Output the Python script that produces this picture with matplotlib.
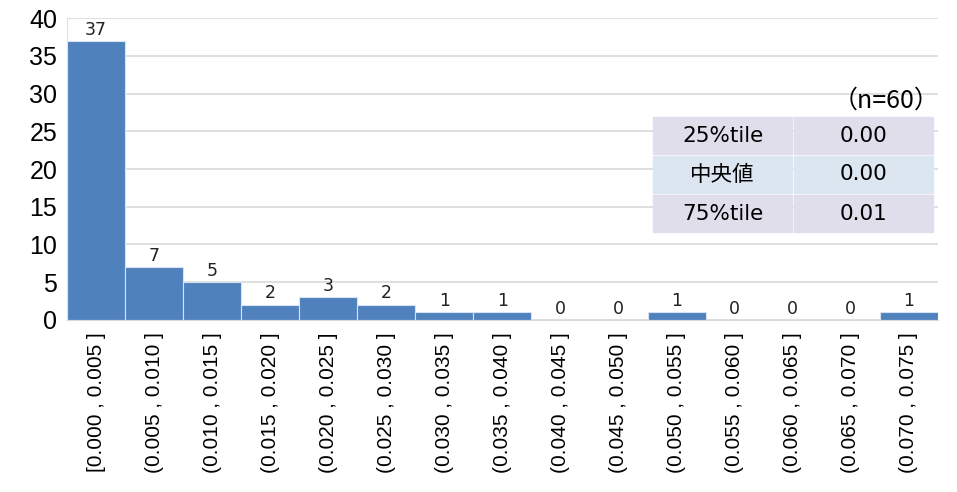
import matplotlib
matplotlib.use("Agg")
import matplotlib.pyplot as plt
import numpy as np

plt.rcParams['font.family'] = ['Liberation Sans', 'Noto Sans CJK JP', 'DejaVu Sans']

# bins and counts
bin_labels = ['[0.000 , 0.005 ]', '(0.005 , 0.010 ]', '(0.010 , 0.015 ]', '(0.015 , 0.020 ]',
              '(0.020 , 0.025 ]', '(0.025 , 0.030 ]', '(0.030 , 0.035 ]', '(0.035 , 0.040 ]',
              '(0.040 , 0.045 ]', '(0.045 , 0.050 ]', '(0.050 , 0.055 ]', '(0.055 , 0.060 ]',
              '(0.060 , 0.065 ]', '(0.065 , 0.070 ]', '(0.070 , 0.075 ]']
counts = [37, 7, 5, 2, 3, 2, 1, 1, 0, 0, 1, 0, 0, 0, 1]

# summary table
stat_names = ['25%tile', '中央値', '75%tile']
stat_values = ['0.00', '0.00', '0.01']
n_text = '（n=60）'

fig = plt.figure(figsize=(9.57, 4.92), dpi=100)
ax = fig.add_axes([0.070, 0.350, 0.910, 0.613])

x = np.arange(len(counts))
ax.bar(x, counts, width=1.0, color='#4F81BD', edgecolor='#D9E2F0', linewidth=0.8, zorder=2)
for xi, c in zip(x, counts):
    ax.text(xi, c + 0.3, str(c), ha='center', va='bottom', fontsize=12.5,
            family=['DejaVu Sans'], color='#222222')

ax.set_xlim(-0.5, len(counts) - 0.5)
ax.set_ylim(0, 40)
ax.set_yticks(range(0, 41, 5))
ax.yaxis.grid(True, color='#D9D9D9', linewidth=1.2, zorder=0)
ax.set_axisbelow(True)
ax.tick_params(axis='y', labelsize=18, length=0, pad=7)
ax.set_xticks(x)
ax.set_xticklabels(bin_labels, rotation=90, fontsize=15)
ax.tick_params(axis='x', length=0, pad=9)
for side in ['top', 'right']:
    ax.spines[side].set_visible(False)
ax.spines['left'].set_color('#E0E0E0')
ax.spines['bottom'].set_color('#D9D9D9')

# summary table in figure pixels
W, H = 957, 492
row_colors = ['#E1DEEB', '#DCE6F1', '#E1DEEB']
row_tops = [117, 156, 195]
row_h = 37
x0, x1, x2 = 653, 792, 933
for name, val, top, col in zip(stat_names, stat_values, row_tops, row_colors):
    for a, b, txt in [(x0, x1, name), (x1 + 2, x2, val)]:
        rect = plt.Rectangle((a / W, 1 - (top + row_h) / H), (b - a) / W, row_h / H,
                             transform=fig.transFigure, color=col, zorder=5)
        fig.add_artist(rect)
        fig.text((a + b) / 2 / W, 1 - (top + row_h / 2) / H, txt, ha='center', va='center',
                 fontsize=15.5, zorder=6, family=['DejaVu Sans', 'Noto Sans CJK JP'])
fig.text(940 / W, 1 - 101 / H, n_text, ha='right', va='center', fontsize=18,
         family=['Noto Sans CJK JP', 'DejaVu Sans'])

fig.savefig('out.png', dpi=100)
